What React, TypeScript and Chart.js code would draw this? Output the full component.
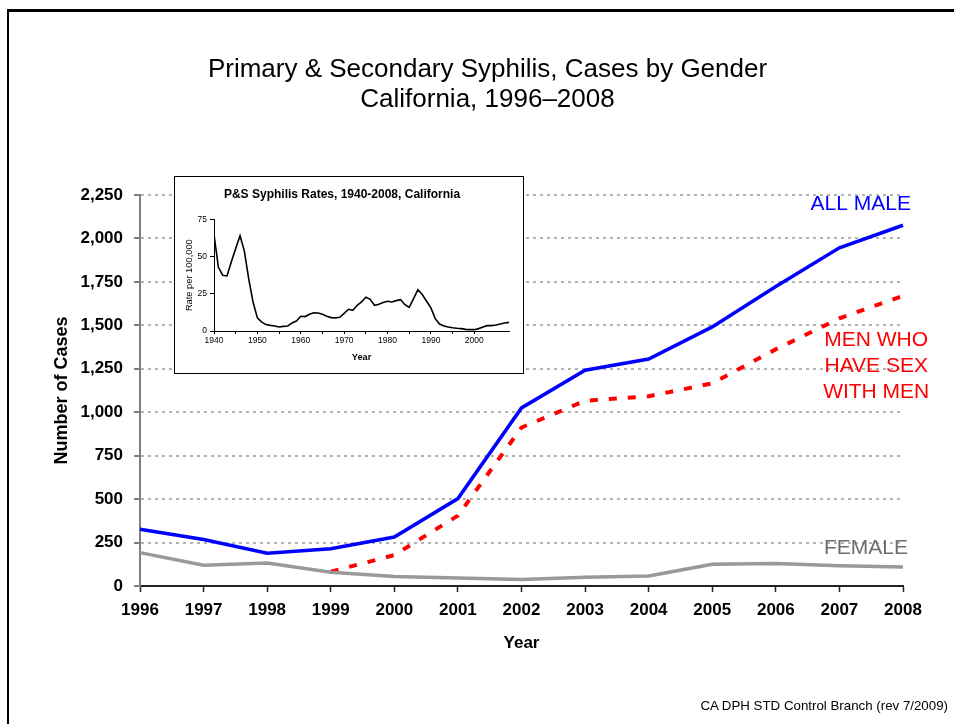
import React, { useEffect, useRef } from "react";
import { Chart, registerables } from "chart.js";

Chart.register(...registerables);

const FONT = "'Liberation Sans', Arial, Helvetica, sans-serif";

// Main chart data
const years = ["1996", "1997", "1998", "1999", "2000", "2001", "2002", "2003", "2004", "2005", "2006", "2007", "2008"];
const allMale = [326, 268, 189, 215, 282, 503, 1025, 1242, 1306, 1491, 1724, 1946, 2076];
const msm = [null, null, null, 82, 178, 405, 912, 1066, 1092, 1166, 1362, 1540, 1670];
const female = [192, 119, 132, 79, 54, 46, 38, 50, 57, 125, 130, 117, 109];
const yTicks = [0, 250, 500, 750, 1000, 1250, 1500, 1750, 2000, 2250];

// Inset data: P&S syphilis rates per 100,000, 1940-2008
const insetStartYear = 1940;
const insetRates = [
  65, 43, 37.5, 37, 46.5, 55.5, 64, 53.7, 35, 19.5,
  8.8, 6, 4.3, 3.8, 3.4, 2.7, 3.1, 3.4, 5.4, 6.7,
  9.9, 9.7, 11.2, 12.3, 12.1, 11.2, 9.9, 9, 8.8, 9.2,
  11.9, 14.6, 13.9, 17.3, 19.5, 22.7, 21.3, 17.3, 18, 19.1,
  20, 19.5, 20.4, 21.1, 17.7, 15.9, 21.8, 27.8, 24.5, 20,
  15.5, 8.3, 4.7, 3.4, 2.7, 2.2, 1.8, 1.6, 1.1, 0.9,
  0.9, 1.6, 2.7, 3.6, 3.6, 4, 4.7, 5.4, 5.8,
];

const seriesLabels = {
  male: ["ALL MALE"],
  msm: ["MEN WHO", "HAVE SEX", "WITH MEN"],
  female: ["FEMALE"],
};

const labelPlugin = {
  id: "seriesLabels",
  afterDatasetsDraw(chart: any) {
    const { ctx, scales } = chart;
    const x = scales.x;
    const y = scales.y;
    ctx.save();
    ctx.font = `21px ${FONT}`;
    ctx.textBaseline = "middle";
    ctx.textAlign = "right";
    ctx.fillStyle = "#0000ff";
    ctx.fillText(seriesLabels.male[0], x.getPixelForValue(12) + 8, y.getPixelForValue(2195));
    ctx.textAlign = "center";
    ctx.fillStyle = "#ff0000";
    const msmY = [1415, 1266, 1117];
    seriesLabels.msm.forEach((t, i) => {
      ctx.fillText(t, x.getPixelForValue(11.5) + 5, y.getPixelForValue(msmY[i]));
    });
    ctx.fillStyle = "#6e6e6e";
    ctx.textAlign = "right";
    ctx.fillText(seriesLabels.female[0], x.getPixelForValue(12) + 5, y.getPixelForValue(219));
    ctx.restore();
  },
};

function MainChart() {
  const ref = useRef<HTMLCanvasElement>(null);
  useEffect(() => {
    const chart = new Chart(ref.current!, {
      type: "line",
      data: {
        labels: years,
        datasets: [
          { label: "Female", data: female, borderColor: "#999999", borderWidth: 3.5, pointRadius: 0, tension: 0 },
          { label: "MSM", data: msm, borderColor: "#ff0000", borderWidth: 4, borderDash: [8, 11], pointRadius: 0, tension: 0 },
          { label: "All Male", data: allMale, borderColor: "#0000ff", borderWidth: 3.5, pointRadius: 0, tension: 0 },
        ],
      },
      options: {
        animation: false,
        responsive: false,
        layout: { padding: { left: 0, top: 195, right: 51, bottom: 0 } },
        plugins: { legend: { display: false }, tooltip: { enabled: false }, title: { display: false } },
        scales: {
          x: {
            type: "category",
            offset: false,
            afterFit: (s: any) => { s.height = 138; },
            grid: { display: true, drawOnChartArea: false, drawTicks: true, tickLength: 6, tickColor: "#222", tickWidth: 1.5 },
            border: { display: true, color: "#222", width: 2 },
            ticks: { color: "#000", font: { family: FONT, size: 17, weight: "bold" }, padding: 8, maxRotation: 0, autoSkip: false },
            title: { display: true, text: "Year", color: "#000", font: { family: FONT, size: 17, weight: "bold" }, padding: { top: 0, bottom: 70 } },
          },
          y: {
            min: 0,
            max: 2250,
            afterFit: (s: any) => { s.width = 140; },
            afterBuildTicks: (s: any) => { s.ticks = yTicks.map((v) => ({ value: v })); },
            grid: { color: "#b3b3b3", lineWidth: 2, tickLength: 6, tickColor: "#555", tickWidth: 1.5, tickBorderDash: [] },
            border: { display: true, color: "#808080", width: 2, dash: [3, 4] },
            ticks: {
              color: "#000",
              font: { family: FONT, size: 17, weight: "bold" },
              padding: 11,
              callback: (v: any) => Number(v).toLocaleString("en-US"),
            },
            title: { display: true, text: "Number of Cases", color: "#000", font: { family: FONT, size: 18, weight: "bold" }, padding: { top: 51, bottom: 0 } },
          },
        },
      } as any,
      plugins: [labelPlugin],
    });
    return () => chart.destroy();
  }, []);
  return <canvas ref={ref} width={954} height={724} style={{ position: "absolute", left: 0, top: 0 }} />;
}

function InsetChart() {
  const ref = useRef<HTMLCanvasElement>(null);
  useEffect(() => {
    const points = insetRates.map((r, i) => ({ x: insetStartYear + i, y: r }));
    const chart = new Chart(ref.current!, {
      type: "line",
      data: {
        datasets: [{ data: points, borderColor: "#000", borderWidth: 1.6, pointRadius: 0, tension: 0 }],
      },
      options: {
        animation: false,
        responsive: false,
        layout: { padding: { left: 0, top: 0, right: 14, bottom: 0 } },
        plugins: {
          legend: { display: false },
          tooltip: { enabled: false },
          title: {
            display: true,
            text: "P&S Syphilis Rates, 1940-2008, California",
            color: "#000",
            font: { family: FONT, size: 12, weight: "bold", lineHeight: 1.2 },
            padding: { top: 10, bottom: 18 },
          },
        },
        scales: {
          x: {
            type: "linear",
            min: 1940,
            max: 2008,
            afterFit: (s: any) => { s.height = 42; },
            afterBuildTicks: (s: any) => { s.ticks = s.ticks.filter((t: any) => t.value % 5 === 0); },
            grid: { display: true, drawOnChartArea: false, tickLength: 3, tickColor: "#000" },
            border: { display: true, color: "#000", width: 1 },
            ticks: {
              stepSize: 5,
              color: "#000",
              font: { family: FONT, size: 8.5 },
              padding: 2,
              maxRotation: 0,
              autoSkip: false,
              callback: (v: any) => (Number(v) % 10 === 0 ? String(v) : ""),
            },
            title: { display: true, text: "Year", color: "#000", font: { family: FONT, size: 9.2, weight: "bold" }, padding: { top: 0, bottom: 10 } },
          },
          y: {
            min: 0,
            max: 75,
            afterFit: (s: any) => { s.width = 39; },
            grid: { display: true, drawOnChartArea: false, tickLength: 4, tickColor: "#000" },
            border: { display: true, color: "#000", width: 1 },
            ticks: { stepSize: 25, color: "#000", font: { family: FONT, size: 8.5 }, padding: 3 },
            title: { display: true, text: "Rate per 100,000", color: "#000", font: { family: FONT, size: 9.3 }, padding: { top: 9, bottom: 0 } },
          },
        },
      } as any,
    });
    return () => chart.destroy();
  }, []);
  return <canvas ref={ref} width={348} height={196} style={{ position: "absolute", left: 0, top: 0 }} />;
}

export default function App() {
  return (
    <div style={{ position: "absolute", left: 0, top: 0, width: 954, height: 724, overflow: "hidden", background: "#fff", fontFamily: FONT }}>
      <div style={{ position: "absolute", left: 7, top: 9, width: 1000, height: 800, borderTop: "3px solid #000", borderLeft: "2px solid #000" }} />
      <MainChart />
      <div
        style={{
          position: "absolute",
          left: 174,
          top: 176,
          width: 350,
          height: 198,
          boxSizing: "border-box",
          border: "1px solid #000",
          background: "#fff",
        }}
      >
        <InsetChart />
      </div>
      <div
        style={{
          position: "absolute",
          left: 0,
          top: 53,
          width: 975,
          textAlign: "center",
          fontSize: 26,
          lineHeight: "30px",
          color: "#000",
        }}
      >
        <div>Primary &amp; Secondary Syphilis, Cases by Gender</div>
        <div>California, 1996–2008</div>
      </div>
      <div style={{ position: "absolute", right: 6, top: 697, fontSize: 13.3, lineHeight: "18px", color: "#000", whiteSpace: "nowrap" }}>
        CA DPH STD Control Branch (rev 7/2009)
      </div>
    </div>
  );
}
